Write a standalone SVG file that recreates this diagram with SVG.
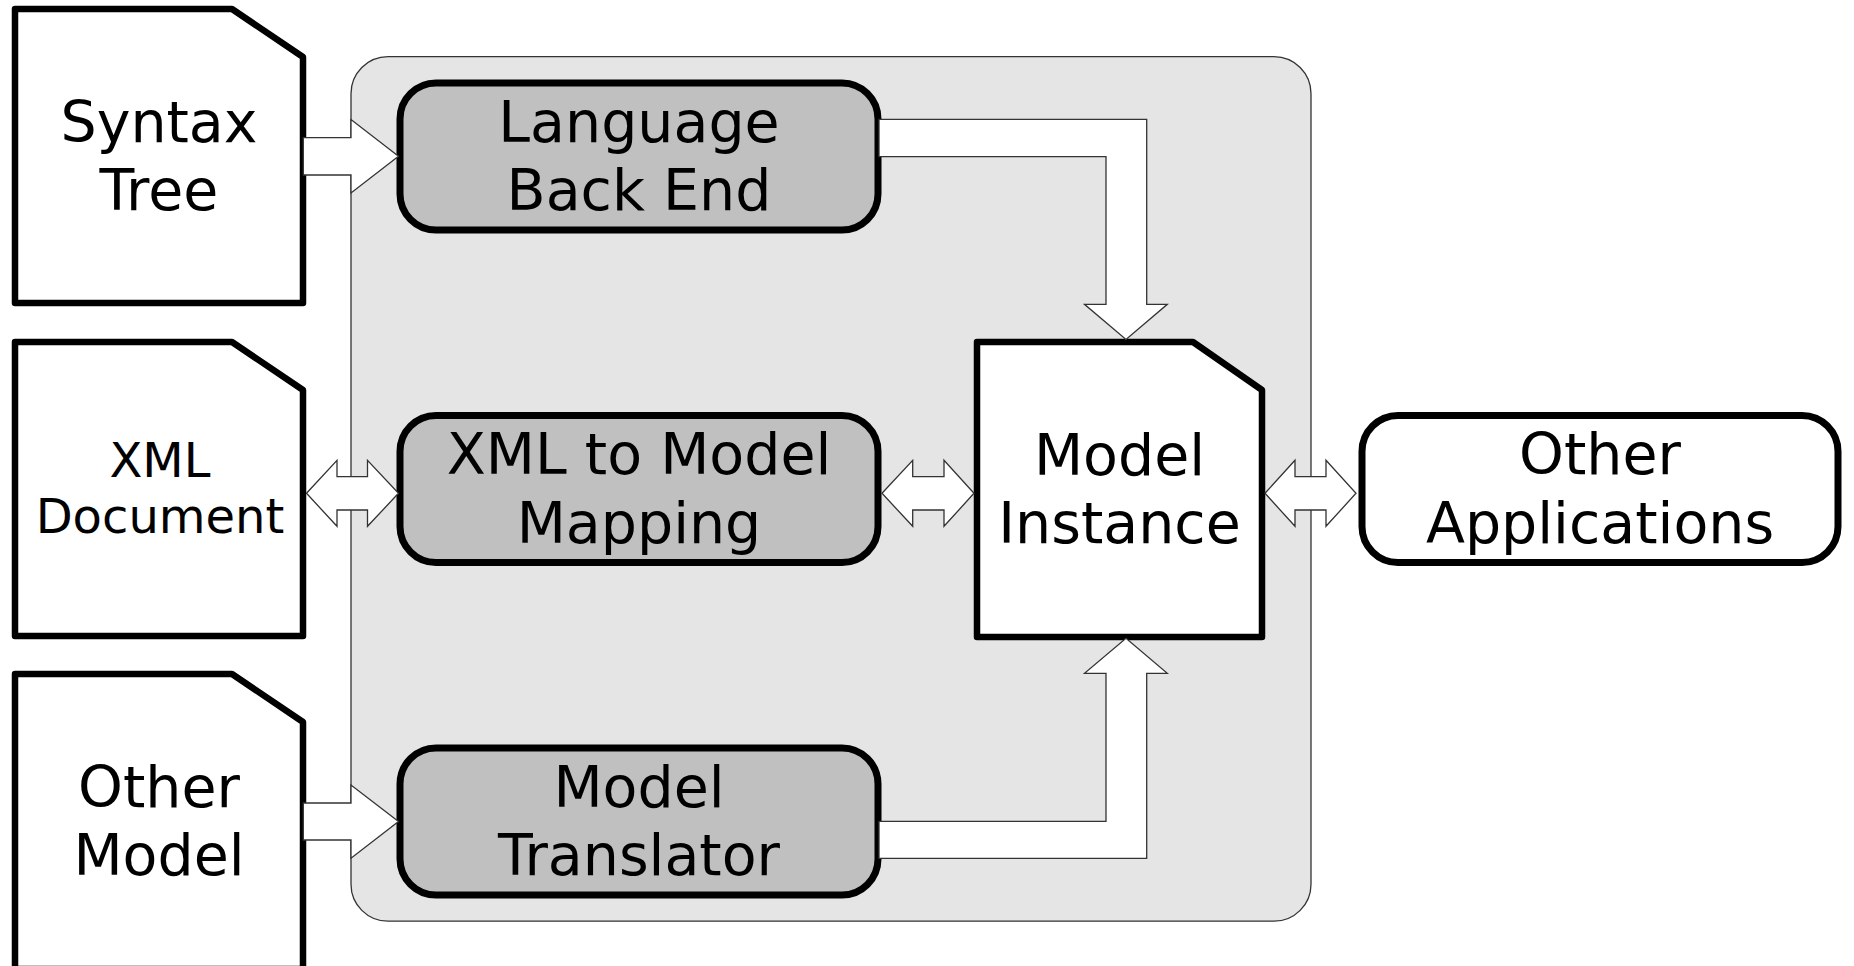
<svg xmlns="http://www.w3.org/2000/svg" width="1854" height="966" viewBox="0 0 1854 966">
  <style>
    .doc { fill: #ffffff; stroke: #000000; stroke-width: 6.5; stroke-linejoin: round; }
    .proc { fill: #c0c0c0; stroke: #000000; stroke-width: 7; }
    .app { fill: #ffffff; stroke: #000000; stroke-width: 7; }
    .frame { fill: #e5e5e5; stroke: #333333; stroke-width: 1.3; }
    .arrow { fill: #ffffff; stroke: #333333; stroke-width: 1.3; stroke-linejoin: miter; }
    .lbl { font-family: "DejaVu Sans", "Noto Sans", sans-serif; font-size: 57px; text-anchor: middle; fill: #000000; }
    .lbl-sm { font-size: 48px; }
  </style>
  <rect width="1854" height="966" fill="#ffffff"/>

  <!-- framework area holding the three processors -->
  <g id="framework">
    <rect class="frame" x="351" y="56.7" width="960" height="864.5" rx="37" ry="37"/>
  </g>

  <!-- input documents -->
  <g id="syntax-tree">
    <path class="doc" d="M15,9 H232 L303,57 V303 H15 Z"/>
    <text class="lbl" x="159" y="141.5">Syntax</text>
    <text class="lbl" x="159" y="210">Tree</text>
  </g>
  <g id="xml-document">
    <path class="doc" d="M15,342 H232 L303,390 V636 H15 Z"/>
    <text class="lbl lbl-sm" x="160" y="476.7">XML</text>
    <text class="lbl lbl-sm" x="160" y="532.7">Document</text>
  </g>
  <g id="other-model">
    <path class="doc" d="M15,674 H232 L303,722 V969 H15 Z"/>
    <text class="lbl" x="159" y="806.7">Other</text>
    <text class="lbl" x="159" y="875">Model</text>
  </g>

  <!-- processors -->
  <g id="language-back-end">
    <rect class="proc" x="400" y="83" width="478" height="147" rx="36" ry="36"/>
    <text class="lbl" x="639" y="142">Language</text>
    <text class="lbl" x="639" y="210">Back End</text>
  </g>
  <g id="xml-to-model-mapping">
    <rect class="proc" x="400" y="415.5" width="478" height="147" rx="36" ry="36"/>
    <text class="lbl" x="639" y="474">XML to Model</text>
    <text class="lbl" x="639" y="543">Mapping</text>
  </g>
  <g id="model-translator">
    <rect class="proc" x="400" y="748" width="478" height="147" rx="36" ry="36"/>
    <text class="lbl" x="639" y="806.7">Model</text>
    <text class="lbl" x="639" y="875">Translator</text>
  </g>

  <!-- central model instance -->
  <g id="model-instance">
    <path class="doc" d="M977,342 H1193 L1262,390 V637 H977 Z"/>
    <text class="lbl" x="1119.5" y="475">Model</text>
    <text class="lbl" x="1119.5" y="543">Instance</text>
  </g>

  <!-- consumer -->
  <g id="other-applications">
    <rect class="app" x="1362" y="415.5" width="476" height="147" rx="36" ry="36"/>
    <text class="lbl" x="1600" y="474">Other</text>
    <text class="lbl" x="1600" y="543">Applications</text>
  </g>

  <!-- block-arrow connectors -->
  <g id="connectors">
    <!-- Syntax Tree -> Language Back End -->
    <polygon class="arrow" points="303.3,137.7 351,137.7 351,119.5 398.5,156.3 351,193 351,175 303.3,175"/>
    <!-- Other Model -> Model Translator -->
    <polygon class="arrow" points="303.3,803 351,803 351,785 398.5,821.5 351,858.2 351,840 303.3,840"/>
    <!-- XML Document <-> XML to Model Mapping -->
    <polygon class="arrow" points="306.5,493.3 337,460.3 337,476.6 367.5,476.6 367.5,460.3 398.5,493.3 367.5,526.3 367.5,510 337,510 337,526.3"/>
    <!-- XML to Model Mapping <-> Model Instance -->
    <polygon class="arrow" points="882,493.3 912.7,460.3 912.7,476.6 944,476.6 944,460.3 974,493.3 944,526.3 944,510 912.7,510 912.7,526.3"/>
    <!-- Model Instance <-> Other Applications -->
    <polygon class="arrow" points="1265,493.3 1295,460.3 1295,476.6 1326,476.6 1326,460.3 1356,493.3 1326,526.3 1326,510 1295,510 1295,526.3"/>
    <!-- Language Back End -> Model Instance -->
    <polygon class="arrow" points="879,119.3 1146.7,119.3 1146.7,304.3 1167.3,304.3 1126,339.5 1084.5,304.3 1106,304.3 1106,156.7 879,156.7"/>
    <!-- Model Translator -> Model Instance -->
    <polygon class="arrow" points="879,858.3 1146.7,858.3 1146.7,673.3 1167.3,673.3 1126,638.3 1084.5,673.3 1106,673.3 1106,821.3 879,821.3"/>
  </g>
</svg>
